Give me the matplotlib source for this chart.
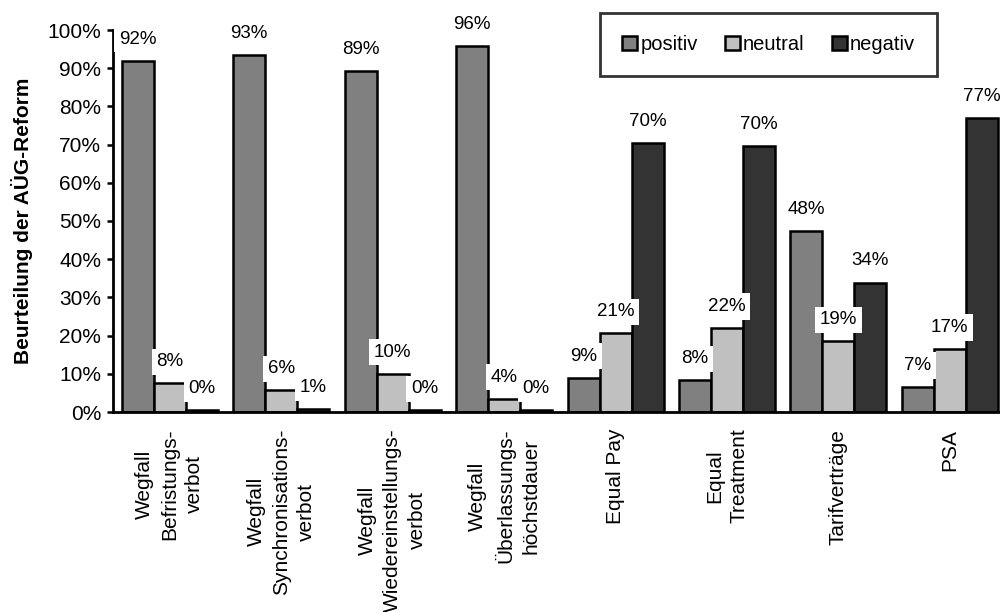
import numpy as np
import matplotlib
matplotlib.use("Agg")
import matplotlib.pyplot as plt

plt.rcParams['font.family'] = ['Liberation Sans', 'DejaVu Sans']

categories = [
    "Wegfall\nBefristungs-\nverbot",
    "Wegfall\nSynchronisations-\nverbot",
    "Wegfall\nWiedereinstellungs-\nverbot",
    "Wegfall\nÜberlassungs-\nhöchstdauer",
    "Equal Pay",
    "Equal\nTreatment",
    "Tarifverträge",
    "PSA",
]
positiv = [92.0, 93.4, 89.3, 95.9, 9.0, 8.3, 47.5, 6.5]
neutral = [7.5, 5.7, 10.0, 3.5, 20.6, 22.0, 18.5, 16.5]
negativ = [0.4, 0.8, 0.4, 0.4, 70.3, 69.7, 33.9, 77.0]
lab_pos = ["92%", "93%", "89%", "96%", "9%", "8%", "48%", "7%"]
lab_neu = ["8%", "6%", "10%", "4%", "21%", "22%", "19%", "17%"]
lab_neg = ["0%", "1%", "0%", "0%", "70%", "70%", "34%", "77%"]

series = [
    ("positiv", positiv, lab_pos, "#808080"),
    ("neutral", neutral, lab_neu, "#c0c0c0"),
    ("negativ", negativ, lab_neg, "#333333"),
]

fig = plt.figure(figsize=(10, 6.12), dpi=100)
# Plotfläche: links 113 px, unten 412 px, oben 30 px
ax = fig.add_axes([0.113, 1 - 412 / 612, 0.887, (412 - 30) / 612])

x = np.arange(len(categories))
w = 0.287
for k, (name, vals, labs, col) in enumerate(series):
    xs = x + (k - 1) * w
    ax.bar(xs, vals, w, color=col, edgecolor="black", linewidth=1.8,
           label=name, zorder=2)
    for xi, v, t in zip(xs, vals, labs):
        ax.annotate(t, (xi, v), xytext=(0, 15.5), textcoords="offset points",
                    ha="center", va="center", fontsize=13.5, zorder=5,
                    annotation_clip=False,
                    bbox=dict(boxstyle="square,pad=0.25", fc="white", ec="none"))

ax.set_xlim(-0.51, 7.45)
ax.set_ylim(0, 100)
ax.set_yticks(range(0, 101, 10))
ax.set_yticklabels([f"{v}%" for v in range(0, 101, 10)], fontsize=15)
ax.set_xticks(x)
ax.set_xticklabels(categories, rotation=90, fontsize=15, va="top",
                   ha="center", multialignment="center", linespacing=1.4)
ax.tick_params(axis="x", length=0, pad=12)
ax.tick_params(axis="y", length=4.5, width=1.8, direction="out", pad=4)
for s in ["top", "right"]:
    ax.spines[s].set_visible(False)
for s in ["left", "bottom"]:
    ax.spines[s].set_linewidth(2)

fig.text(0.022, 1 - 221 / 612, "Beurteilung der AÜG-Reform", rotation=90,
         ha="center", va="center", fontsize=15, fontweight="bold")

leg = fig.legend(loc="upper left", bbox_to_anchor=(0.600, 0.979 - 0.105, 0.337, 0.105),
                 mode="expand", ncol=3, fontsize=14.5, frameon=True, fancybox=False,
                 handlelength=0.75, handleheight=0.75, handletextpad=0.15,
                 borderpad=1.1, borderaxespad=0)
leg.get_frame().set_edgecolor("black")
leg.get_frame().set_linewidth(2)

fig.savefig("out.png", dpi=100)
